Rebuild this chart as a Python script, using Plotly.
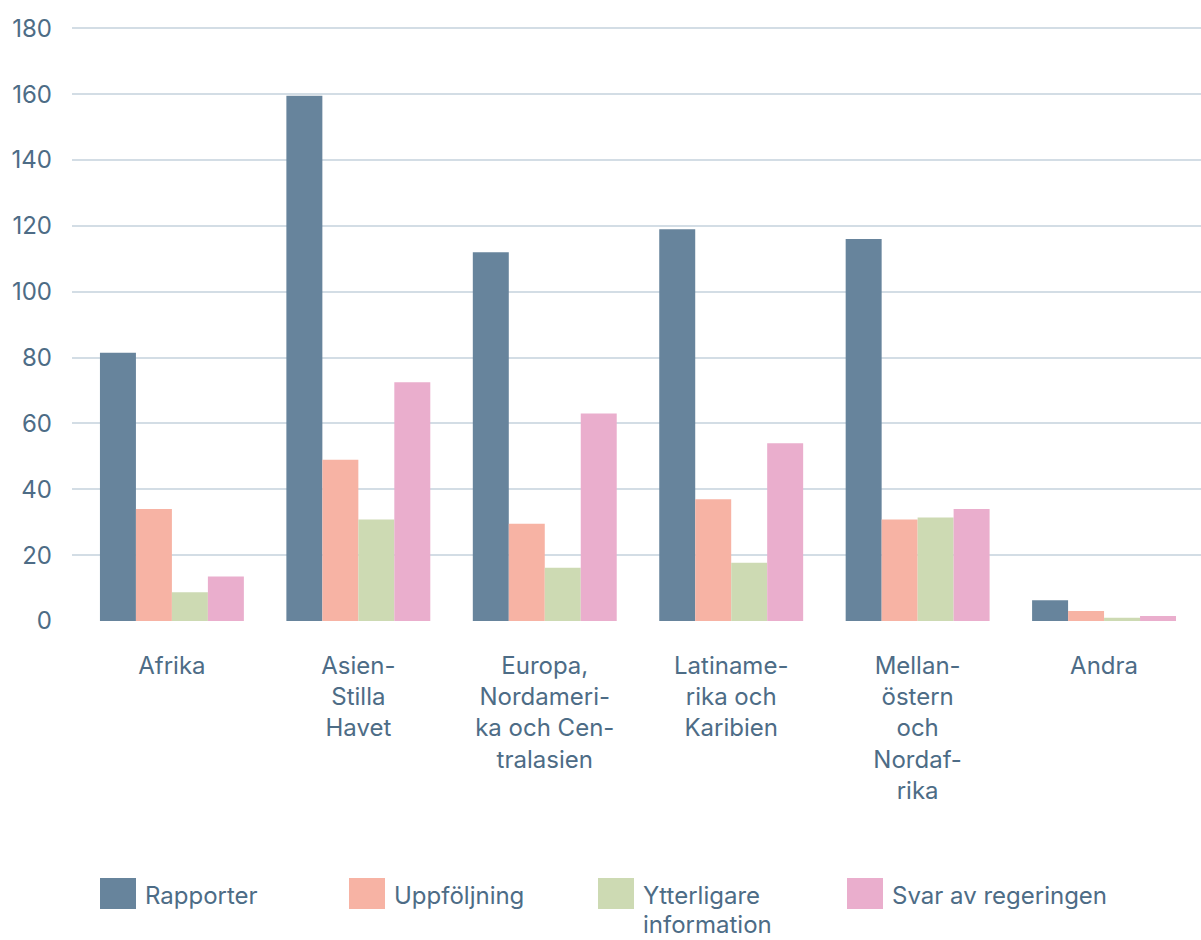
import plotly.graph_objects as go

categories = ["Afrika", "Asien-<br>Stilla<br>Havet", "Europa,<br>Nordameri-<br>ka och Cen-<br>tralasien",
              "Latiname-<br>rika och<br>Karibien", "Mellan-<br>östern<br>och<br>Nordaf-<br>rika", "Andra"]
series_names = ["Rapporter", "Uppföljning", "Ytterligare<br>information", "Svar av regeringen"]
rapporter = [81.5, 159.5, 112, 119, 116, 6.3]
uppfoljning = [34, 49, 29.5, 37, 30.8, 3]
ytterligare = [8.7, 30.8, 16.2, 17.7, 31.4, 1]
svar = [13.5, 72.5, 63, 54, 34, 1.5]
y_ticks = [0, 20, 40, 60, 80, 100, 120, 140, 160, 180]

colors = ["#67849c", "#f7b3a4", "#cddab3", "#eaaecd"]
text_color = "#4d6c86"
font_family = "Inter, Lato, sans-serif"
FS = 24

W, H = 1201, 940
ML, MR, MT, MB = 72, 0, 25, 319
pw, ph = W - ML - MR, H - MT - MB

def px_x(x):
    return (x - ML) / pw

def px_y(y):
    return (H - MB - y) / ph

fig = go.Figure()
xs = list(range(len(categories)))
for name, vals, col in zip(series_names, [rapporter, uppfoljning, ytterligare, svar], colors):
    fig.add_trace(go.Bar(x=xs, y=vals, name=name.replace("<br>", " "),
                         marker=dict(color=col, line=dict(width=0)),
                         showlegend=False, hoverinfo="skip"))

cat_w = 186.6
left_ext = (ML - (172 - cat_w / 2)) / cat_w
fig.update_layout(
    width=W, height=H, autosize=False,
    margin=dict(l=ML, r=MR, t=MT, b=MB),
    paper_bgcolor="white", plot_bgcolor="white",
    barmode="group", bargap=0.228, bargroupgap=0,
    font=dict(family=font_family, color=text_color, size=FS),
    xaxis=dict(tickmode="array", tickvals=xs, ticktext=categories,
               range=[-0.5 + left_ext, len(categories) - 0.5 + 0.02],
               showgrid=False, zeroline=False, showline=False, ticks="",
               tickfont=dict(size=FS, color=text_color), ticklabelstandoff=28),
    yaxis=dict(range=[0, 181], tickmode="array", tickvals=y_ticks,
               showgrid=True, gridcolor="#d3dde5", gridwidth=2,
               zeroline=False, showline=False, ticks="",
               tickfont=dict(size=24, color=text_color), ticklabelstandoff=19),
)

# custom legend with large swatches
leg_x = [100, 349, 598, 847]
for i, (name, col) in enumerate(zip(series_names, colors)):
    x0 = leg_x[i]
    fig.add_shape(type="rect", xref="paper", yref="paper",
                  x0=px_x(x0), x1=px_x(x0 + 36), y0=px_y(909), y1=px_y(878),
                  fillcolor=col, line=dict(width=0))
    lines = name.split("<br>")
    fig.add_annotation(xref="paper", yref="paper", x=px_x(x0 + 44), y=px_y(880),
                       xanchor="left", yanchor="top", text=lines[0], showarrow=False,
                       align="left", borderpad=0,
                       font=dict(size=FS, color=text_color, family=font_family))
    if len(lines) > 1:
        fig.add_annotation(xref="paper", yref="paper", x=px_x(x0 + 44), y=px_y(940),
                           xanchor="left", yanchor="bottom", text=lines[1], showarrow=False,
                           align="left", borderpad=0,
                           font=dict(size=FS, color=text_color, family=font_family))

fig.write_html("out.html", config={"displayModeBar": False},
               post_script="document.body.style.margin='0px';")
